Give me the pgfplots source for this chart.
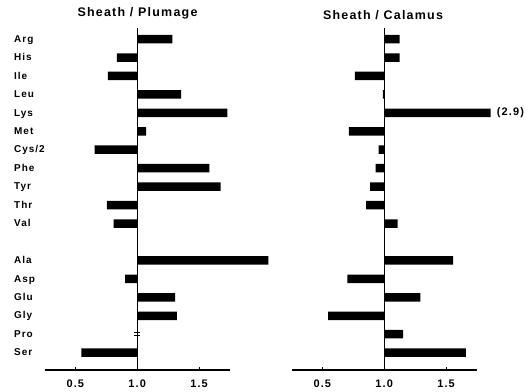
\documentclass[border=0pt]{standalone}
\usepackage{pgfplots}
\pgfplotsset{compat=1.18}
\usepackage{pgfplotstable}
\usepackage{fontspec}
\setmainfont{Liberation Sans}[LetterSpace=10]

\pgfplotstableread{
i  L      R
0  1.285  1.125
1  0.836  1.125
2  0.764  0.764
3  1.355  0.990
4  1.728  2.9
5  1.073  0.715
6  0.656  0.954
7  1.583  0.930
8  1.675  0.886
9  0.756  0.854
10 0.809  1.108
12 2.060  1.558
13 0.903  0.702
14 1.306  1.293
15 1.320  0.547
16 1.000  1.152
17 0.548  1.661
}\datatab

\begin{document}
\begin{tikzpicture}
\path[use as bounding box] (0bp,0bp) rectangle (529bp,392bp);
\pgfplotsset{panel/.style={
  at={(#1,22bp)}, anchor=south west,
  scale only axis, width=185bp, height=342bp,
  xmin=-0.745, xmax=0.75, ymin=-17.94, ymax=0.6,
  axis x line*=bottom, axis y line*=left,
  y axis line style={draw=none},
  x axis line style={line width=1.1bp,-},
  ytick={0,-1,-2,-3,-4,-5,-6,-7,-8,-9,-10,-12,-13,-14,-15,-16,-17},
  ytick style={draw=none},
  xtick={-0.5,0,0.5}, xticklabels={0.5,1.0,1.5},
  tick align=inside, major tick length=3bp,
  xtick style={line width=0.8bp, black},
  xticklabel style={font=\bfseries\fontsize{11}{13}\selectfont, yshift=-6.5bp},
  clip=false,
}}
\begin{axis}[panel=45bp,
  yticklabels={Arg,His,Ile,Leu,Lys,Met,Cys/2,Phe,Tyr,Thr,Val,Ala,Asp,Glu,Gly,Pro,Ser},
  yticklabel style={anchor=base west, inner sep=0pt, xshift=-31bp, yshift=-3.2bp,
    font=\bfseries\fontsize{10}{12}\selectfont},
]
\addplot[xbar, fill=black, draw=none, bar width=8.5bp]
  table[x expr=\thisrow{L}-1, y expr=-\thisrow{i}] {\datatab};
\addplot[only marks, mark=-, mark size=3bp, mark options={line width=0.9bp, yshift=1.5bp}]
  coordinates {(0,-16)};
\addplot[only marks, mark=-, mark size=3bp, mark options={line width=0.9bp, yshift=-1.5bp}]
  coordinates {(0,-16)};
\draw[line width=1.2bp] (axis cs:0,0.6) -- (axis cs:0,-17.94);
\end{axis}
\begin{axis}[panel=292bp, yticklabels={}]
\addplot[xbar, fill=black, draw=none, bar width=8.5bp]
  table[x expr={min(\thisrow{R},1.86)-1}, y expr=-\thisrow{i}] {\datatab};
\draw[line width=1.2bp] (axis cs:0,0.6) -- (axis cs:0,-17.94);
\node[anchor=west, inner sep=0pt, font=\bfseries\fontsize{11}{13}\selectfont]
  at (axis cs:0.91,-4) {(2.9)};
\end{axis}
\node[font=\bfseries\fontsize{12.5}{15}\selectfont] at (137.5bp,379bp) {Sheath / Plumage};
\node[font=\bfseries\fontsize{12.5}{15}\selectfont] at (383bp,377bp) {Sheath / Calamus};
\end{tikzpicture}
\end{document}
